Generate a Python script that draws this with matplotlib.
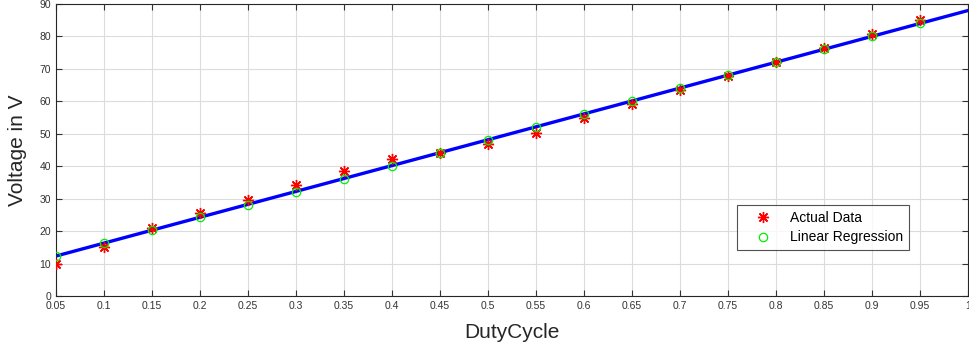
import numpy as np
import matplotlib
matplotlib.use('Agg')
import matplotlib.pyplot as plt

plt.rcParams['font.family'] = ['Liberation Sans', 'DejaVu Sans']

# duty cycle values
duty = [0.05, 0.1, 0.15, 0.2, 0.25, 0.3, 0.35, 0.4, 0.45, 0.5,
        0.55, 0.6, 0.65, 0.7, 0.75, 0.8, 0.85, 0.9, 0.95]
# measured voltage
actual = [9.9, 15.2, 20.9, 25.5, 29.6, 34.3, 38.6, 42.1, 44.2, 46.7,
          50.2, 54.9, 59.2, 63.4, 67.9, 72.1, 76.3, 80.6, 85.0]
# regression estimates
regress = [12.3, 16.3, 20.3, 24.3, 28.2, 32.2, 36.2, 40.2, 44.2, 48.2,
           52.2, 56.1, 60.1, 64.1, 68.1, 72.1, 76.0, 80.0, 84.0]

xticks = np.round(np.arange(0.05, 1.0001, 0.05), 2)
xticklabels = ['%g' % t for t in xticks]

# fitted line over the full range
coef = np.polyfit(duty, regress, 1)
line_x = np.array([0.05, 1.0])
line_y = np.polyval(coef, line_x)

fig = plt.figure(figsize=(9.7, 3.51), dpi=100)
ax = fig.add_axes([56/970, 1-296/351, 912/970, 292/351])

ax.plot(line_x, line_y, color='#0000ff', lw=2.4, zorder=2)
ax.plot(duty, actual, linestyle='none', marker=(8, 2, 0), color='red',
        markersize=8, markeredgewidth=1.0, label='Actual Data', zorder=3)
ax.plot(duty, regress, linestyle='none', marker='o', markerfacecolor='none',
        markeredgecolor='#00ee00', markersize=6, markeredgewidth=0.9,
        label='Linear Regression', zorder=3)

ax.set_xlim(0.05, 1.0)
ax.set_ylim(0, 90)
ax.set_xticks(xticks)
ax.set_xticklabels(xticklabels)
ax.set_yticks(np.arange(0, 91, 10))
ax.grid(True, color='#dcdcdc', lw=0.8)
ax.set_axisbelow(True)
ax.tick_params(direction='in', top=True, right=True, length=4,
               labelsize=7.5, colors='#333333', width=0.8)
for s in ax.spines.values():
    s.set_color('#262626')
    s.set_linewidth(0.8)

ax.set_xlabel('DutyCycle', fontsize=15, color='#262626', labelpad=9)
ax.set_ylabel('Voltage in V', fontsize=15, color='#262626', labelpad=9)

leg = ax.legend(loc='lower left', bbox_to_anchor=((737-56)/912, (296-250)/292),
                fontsize=10, frameon=True, fancybox=False, edgecolor='#262626',
                borderpad=0.4, handlelength=3.0, handletextpad=0.45,
                labelspacing=0.4, borderaxespad=0)
leg.get_frame().set_linewidth(0.8)

fig.savefig('out.png', dpi=100)
